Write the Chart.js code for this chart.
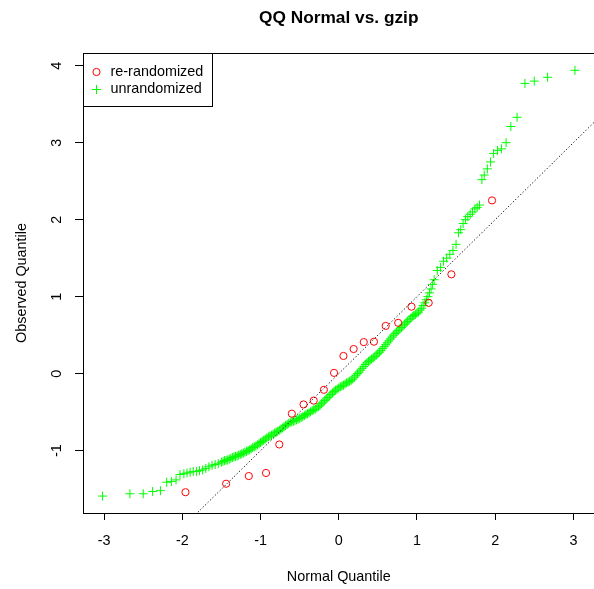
<!DOCTYPE html>
<html>
<head>
<meta charset="utf-8">
<script src="https://cdn.jsdelivr.net/npm/chart.js@4.4.0/dist/chart.umd.min.js"></script>
<style>
	html, body { margin: 0; padding: 0; overflow: hidden; background: #fff; }
</style>
</head>
<body>
<canvas id="qq" width="600" height="589"></canvas>
<script>
// re-randomized sample (20 points)
const reX = [-1.96, -1.44, -1.15, -0.93, -0.76, -0.60, -0.45, -0.32, -0.19, -0.06,
	0.06, 0.19, 0.32, 0.45, 0.60, 0.76, 0.93, 1.15, 1.44, 1.96];
const reY = [-1.54, -1.43, -1.33, -1.29, -0.92, -0.52, -0.40, -0.35, -0.21, 0.01,
	0.23, 0.32, 0.41, 0.415, 0.62, 0.66, 0.87, 0.92, 1.29, 2.25];

// unrandomized sample
const unX = [-3.02, -2.67, -2.50, -2.38, -2.28, -2.20, -2.14, -2.08, -2.03, -1.98,
	-1.94, -1.90, -1.86, -1.82, -1.78, -1.74, -1.70, -1.66, -1.62, -1.58,
	-1.54,
	-1.50, -1.48, -1.46, -1.44, -1.42, -1.40, -1.38, -1.36, -1.34, -1.32,
	-1.30, -1.28, -1.26, -1.24, -1.22, -1.20, -1.18, -1.16, -1.14, -1.12,
	-1.10, -1.08, -1.06, -1.04, -1.02, -1.00, -0.98, -0.96, -0.94, -0.92,
	-0.90, -0.88, -0.86, -0.84, -0.82, -0.80, -0.78, -0.76, -0.74, -0.72,
	-0.70, -0.68, -0.66, -0.64, -0.62, -0.60, -0.58, -0.56, -0.54, -0.52,
	-0.50, -0.48, -0.46, -0.44, -0.42, -0.40, -0.38, -0.36, -0.34, -0.32,
	-0.30, -0.28, -0.26, -0.24, -0.22, -0.20, -0.18, -0.16, -0.14, -0.12,
	-0.10, -0.08, -0.06, -0.04, -0.02, 0.00, 0.02, 0.04, 0.06, 0.08,
	0.10, 0.12, 0.14, 0.16, 0.18, 0.20, 0.22, 0.24, 0.26, 0.28,
	0.30, 0.32, 0.34, 0.36, 0.38, 0.40, 0.42, 0.44, 0.46, 0.48,
	0.50, 0.52, 0.54, 0.56, 0.58, 0.60, 0.62, 0.64, 0.66, 0.68,
	0.70, 0.72, 0.74, 0.76, 0.78, 0.80, 0.82, 0.84, 0.86, 0.88,
	0.90, 0.92, 0.94, 0.96, 0.98, 1.00, 1.02, 1.04, 1.06, 1.08,
	1.10, 1.12, 1.14, 1.16, 1.18, 1.20, 1.22,
	1.26, 1.30, 1.34, 1.38, 1.42, 1.46, 1.50, 1.53, 1.56, 1.59,
	1.62, 1.65, 1.68, 1.71, 1.74, 1.77, 1.80, 1.83, 1.86, 1.90,
	1.94, 1.98, 2.03, 2.08, 2.14, 2.20, 2.28, 2.38, 2.50, 2.67, 3.02];
const unY = [-1.59, -1.56, -1.56, -1.53, -1.52, -1.41, -1.40, -1.38, -1.31, -1.30,
	-1.29, -1.28, -1.27, -1.27, -1.26, -1.25, -1.23, -1.21, -1.19, -1.18,
	-1.17,
	-1.15, -1.14, -1.13, -1.125, -1.12, -1.11, -1.10, -1.09, -1.08, -1.075,
	-1.07, -1.06, -1.05, -1.04, -1.03, -1.02, -1.01, -1.00, -0.99, -0.975,
	-0.96, -0.95, -0.94, -0.925, -0.91, -0.895, -0.88, -0.865, -0.85, -0.835,
	-0.82, -0.81, -0.80, -0.785, -0.77, -0.76, -0.75, -0.735, -0.72, -0.705,
	-0.69, -0.675, -0.66, -0.645, -0.63, -0.625, -0.62, -0.61, -0.60, -0.59,
	-0.58, -0.57, -0.56, -0.545, -0.53, -0.52, -0.51, -0.495, -0.48, -0.47,
	-0.46, -0.445, -0.43, -0.41, -0.39, -0.37, -0.35, -0.33, -0.31, -0.29,
	-0.27, -0.25, -0.23, -0.215, -0.20, -0.185, -0.17, -0.16, -0.15, -0.135,
	-0.12, -0.11, -0.10, -0.085, -0.07, -0.045, -0.02, 0.00, 0.02, 0.045,
	0.07, 0.095, 0.12, 0.14, 0.16, 0.175, 0.19, 0.205, 0.22, 0.24,
	0.26, 0.28, 0.30, 0.325, 0.35, 0.375, 0.40, 0.425, 0.45, 0.475,
	0.50, 0.52, 0.54, 0.56, 0.58, 0.60, 0.62, 0.64, 0.66, 0.68,
	0.70, 0.72, 0.74, 0.755, 0.77, 0.785, 0.80, 0.825, 0.85, 0.885,
	0.92, 0.96, 1.00, 1.05, 1.10, 1.16, 1.22,
	1.34, 1.38, 1.46, 1.50, 1.55, 1.60, 1.68, 1.83, 1.87, 1.95,
	2.00, 2.04, 2.07, 2.10, 2.14, 2.16, 2.19, 2.52, 2.58, 2.66,
	2.75, 2.86, 2.90, 2.92, 3.00, 3.21, 3.33, 3.77, 3.80, 3.85, 3.94];

// reference line y = x
const refX = [-4, 4];
const refY = [-4, 4];

const xTicks = [-3, -2, -1, 0, 1, 2, 3];
const yTicks = [-1, 0, 1, 2, 3, 4];

const FONT = "'Liberation Sans', Arial, Helvetica, sans-serif";

const toPoints = (xs, ys) => xs.map((x, i) => ({ x: x, y: ys[i] }));

const decorations = {
	id: "decorations",
	afterDraw(chart) {
		const ctx = chart.ctx;
		const a = chart.chartArea;
		const yScale = chart.scales.y;
		ctx.save();

		// plot box
		ctx.strokeStyle = "#000";
		ctx.lineWidth = 1;
		ctx.strokeRect(Math.round(a.left) + 0.5, Math.round(a.top) + 0.5,
			Math.round(a.right - a.left), Math.round(a.bottom - a.top));

		ctx.fillStyle = "#000";
		// title
		ctx.font = "bold 17.3px " + FONT;
		ctx.textAlign = "center";
		ctx.textBaseline = "alphabetic";
		ctx.fillText("QQ Normal vs. gzip", (a.left + a.right) / 2, 23);

		// x axis title
		ctx.font = "14.4px " + FONT;
		ctx.textBaseline = "middle";
		ctx.fillText("Normal Quantile", (a.left + a.right) / 2, 577);

		// y tick labels (rotated, R style)
		yTicks.forEach((v) => {
			const py = yScale.getPixelForValue(v);
			ctx.save();
			ctx.translate(57, py);
			ctx.rotate(-Math.PI / 2);
			ctx.fillText(String(v), 0, 0);
			ctx.restore();
		});

		// y axis title
		ctx.save();
		ctx.translate(22, (a.top + a.bottom) / 2);
		ctx.rotate(-Math.PI / 2);
		ctx.fillText("Observed Quantile", 0, 0);
		ctx.restore();

		// legend
		const lx = Math.round(a.left) + 0.5;
		const ly = Math.round(a.top) + 0.5;
		ctx.fillStyle = "#fff";
		ctx.fillRect(lx, ly, 129, 53);
		ctx.strokeStyle = "#000";
		ctx.strokeRect(lx, ly, 129, 53);

		ctx.strokeStyle = "#ff0000";
		ctx.beginPath();
		ctx.arc(lx + 13, ly + 18.5, 3.6, 0, Math.PI * 2);
		ctx.stroke();

		ctx.strokeStyle = "#00ff00";
		ctx.beginPath();
		ctx.moveTo(lx + 8.5, ly + 36);
		ctx.lineTo(lx + 17.5, ly + 36);
		ctx.moveTo(lx + 13, ly + 31.5);
		ctx.lineTo(lx + 13, ly + 40.5);
		ctx.stroke();

		ctx.fillStyle = "#000";
		ctx.textAlign = "left";
		ctx.fillText("re-randomized", lx + 27, ly + 18.5);
		ctx.fillText("unrandomized", lx + 27, ly + 36);

		ctx.restore();
	},
};

drawChart = (canvas) => {
	const myChart = new Chart(canvas, {
		type: "scatter",
		data: {
			datasets: [
				{
					type: "line",
					label: "reference",
					data: toPoints(refX, refY),
					borderColor: "#000",
					borderWidth: 1,
					borderDash: [1.2, 2.2],
					pointRadius: 0,
					fill: false,
				},
				{
					label: "re-randomized",
					data: toPoints(reX, reY),
					pointStyle: "circle",
					pointRadius: 3.6,
					pointHoverRadius: 3.6,
					borderColor: "#ff0000",
					backgroundColor: "rgba(0,0,0,0)",
					borderWidth: 1,
				},
				{
					label: "unrandomized",
					data: toPoints(unX, unY),
					pointStyle: "cross",
					pointRadius: 4.5,
					pointHoverRadius: 4.5,
					borderColor: "#00ff00",
					backgroundColor: "#00ff00",
					borderWidth: 1,
				},
			],
		},
		options: {
			responsive: false,
			animation: false,
			events: [],
			layout: {
				padding: { top: 53, right: 3, left: 0, bottom: 0 },
			},
			plugins: {
				legend: { display: false },
				title: { display: false },
				tooltip: { enabled: false },
			},
			scales: {
				x: {
					type: "linear",
					position: "bottom",
					min: -3.27,
					max: 3.27,
					afterBuildTicks: (scale) => {
						scale.ticks = xTicks.map((v) => ({ value: v }));
					},
					afterFit: (scale) => {
						scale.height = 76;
					},
					border: { display: false },
					grid: {
						drawOnChartArea: false,
						drawTicks: true,
						tickLength: 7,
						tickColor: "#000",
					},
					ticks: {
						color: "#000",
						padding: 12,
						maxRotation: 0,
						font: { family: FONT, size: 14.4 },
						callback: (v) => String(v),
					},
				},
				y: {
					type: "linear",
					position: "left",
					min: -1.81,
					max: 4.165,
					afterBuildTicks: (scale) => {
						scale.ticks = yTicks.map((v) => ({ value: v }));
					},
					afterFit: (scale) => {
						scale.width = 83;
					},
					border: { display: false },
					grid: {
						drawOnChartArea: false,
						drawTicks: true,
						tickLength: 8,
						tickColor: "#000",
					},
					ticks: { display: false },
				},
			},
		},
		plugins: [decorations],
	});
};
drawChart(document.querySelector("#qq"));
</script>
</body>
</html>
